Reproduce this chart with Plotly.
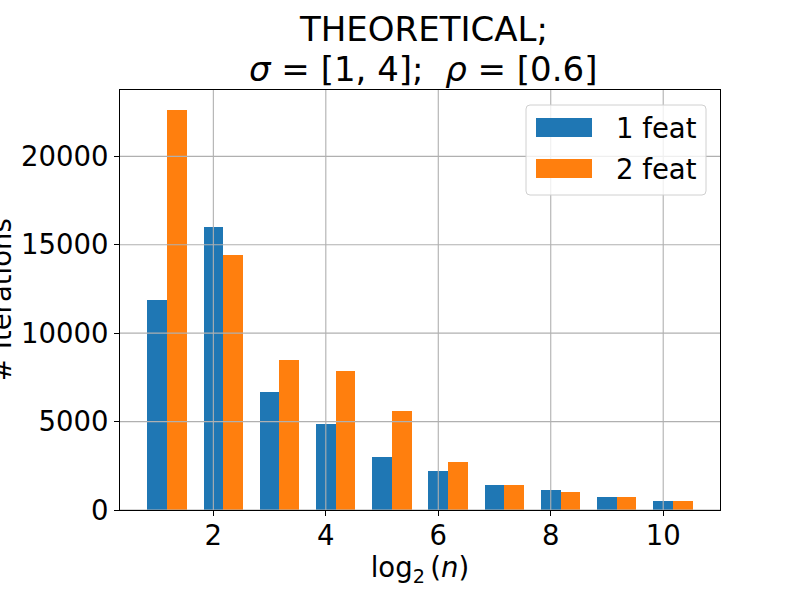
import plotly.graph_objects as go

# ---- data ----
log2_n = [1, 2, 3, 4, 5, 6, 7, 8, 9, 10]
feat1 = [11880, 16025, 6675, 4865, 3000, 2205, 1415, 1130, 735, 510]
feat2 = [22620, 14425, 8485, 7860, 5600, 2715, 1415, 1020, 735, 510]
series_names = ["1 feat", "2 feat"]
x_ticks = [2, 4, 6, 8, 10]
y_ticks = [0, 5000, 10000, 15000, 20000]
title_lines = ["THEORETICAL;", "<i>σ</i> = [1, 4];\u00a0\u00a0<i>ρ</i> = [0.6]"]

BAR_W = 0.35
BLUE = "#1f77b4"
ORANGE = "#ff7f0e"
FONT = "DejaVu Sans"
FS = 27.5

# plot area geometry (pixels)
L, R, T, B = 120, 80, 90, 90
W, H = 800, 600
PW, PH = W - L - R, H - T - B

def px_x(p):
    return (p - L) / PW

def px_y(p):
    return (H - B - p) / PH

def rounded_rect_path(x0, y0, x1, y1, r):
    # pixel coords (y down) -> paper coords path with rounded corners
    X = px_x
    Y = px_y
    return (f"M {X(x0 + r)},{Y(y0)} L {X(x1 - r)},{Y(y0)} "
            f"Q {X(x1)},{Y(y0)} {X(x1)},{Y(y0 + r)} "
            f"L {X(x1)},{Y(y1 - r)} Q {X(x1)},{Y(y1)} {X(x1 - r)},{Y(y1)} "
            f"L {X(x0 + r)},{Y(y1)} Q {X(x0)},{Y(y1)} {X(x0)},{Y(y1 - r)} "
            f"L {X(x0)},{Y(y0 + r)} Q {X(x0)},{Y(y0)} {X(x0 + r)},{Y(y0)} Z")

fig = go.Figure()
fig.add_trace(go.Bar(x=log2_n, y=feat1, width=BAR_W, name=series_names[0],
                     marker=dict(color=BLUE, line=dict(width=0))))
fig.add_trace(go.Bar(x=[v + BAR_W for v in log2_n], y=feat2, width=BAR_W,
                     name=series_names[1],
                     marker=dict(color=ORANGE, line=dict(width=0))))

xmin = min(log2_n) - BAR_W / 2
xmax = max(log2_n) + BAR_W * 1.5
xpad = (xmax - xmin) * 0.05
ymax = max(max(feat1), max(feat2)) * 1.05

shapes = []
# gridlines drawn over bars (as in the reference)
for t in x_ticks:
    shapes.append(dict(type="line", xref="x", yref="paper", x0=t, x1=t, y0=0, y1=1,
                       line=dict(color="#b0b0b0", width=1.1), layer="above"))
for t in y_ticks:
    shapes.append(dict(type="line", xref="paper", yref="y", x0=0, x1=1, y0=t, y1=t,
                       line=dict(color="#b0b0b0", width=1.1), layer="above"))

# manual legend (matplotlib style)
shapes.append(dict(type="path", xref="paper", yref="paper",
                   path=rounded_rect_path(526, 105, 706, 195, 4),
                   line=dict(color="#d0d0d0", width=1),
                   fillcolor="rgba(255,255,255,0.8)", layer="above"))
shapes.append(dict(type="rect", xref="paper", yref="paper",
                   x0=px_x(536), x1=px_x(592), y0=px_y(137), y1=px_y(118),
                   line=dict(width=0), fillcolor=BLUE, layer="above"))
shapes.append(dict(type="rect", xref="paper", yref="paper",
                   x0=px_x(536), x1=px_x(592), y0=px_y(178), y1=px_y(159),
                   line=dict(width=0), fillcolor=ORANGE, layer="above"))

annotations = [
    dict(text=series_names[0], xref="paper", yref="paper", x=px_x(614), y=px_y(127.5),
         xanchor="left", yanchor="middle", showarrow=False,
         font=dict(family=FONT, size=FS, color="black")),
    dict(text=series_names[1], xref="paper", yref="paper", x=px_x(614), y=px_y(168.5),
         xanchor="left", yanchor="middle", showarrow=False,
         font=dict(family=FONT, size=FS, color="black")),
    dict(text="# Iterations", xref="paper", yref="paper", x=px_x(1), y=0.5,
         xanchor="center", yanchor="middle", textangle=-90, showarrow=False,
         font=dict(family=FONT, size=FS, color="black")),
    # title, two lines
    dict(text=title_lines[0], xref="paper", yref="paper", x=px_x(423), y=px_y(29),
         xanchor="center", yanchor="middle", showarrow=False,
         font=dict(family=FONT, size=34, color="black")),
    dict(text=title_lines[1], xref="paper", yref="paper", x=px_x(423), y=px_y(69),
         xanchor="center", yanchor="middle", showarrow=False,
         font=dict(family=FONT, size=34, color="black")),
]

fig.update_layout(
    width=W, height=H,
    margin=dict(l=L, r=R, t=T, b=B),
    paper_bgcolor="white", plot_bgcolor="white",
    barmode="overlay", bargap=0,
    showlegend=False,
    font=dict(family=FONT, size=FS, color="black"),
    xaxis=dict(
        range=[xmin - xpad, xmax + xpad],
        tickmode="array", tickvals=x_ticks, ticktext=[str(t) for t in x_ticks],
        showgrid=False, zeroline=False,
        showline=True, mirror=True, linecolor="black", linewidth=1.1,
        ticks="outside", ticklen=5, tickwidth=1.1, tickcolor="black",
        ticklabelstandoff=-4,
        tickfont=dict(family=FONT, size=FS),
        title=dict(text="log<sub>2</sub>\u2009(<i>n</i>)", standoff=0,
                   font=dict(family=FONT, size=FS)),
    ),
    yaxis=dict(
        range=[0, ymax],
        tickmode="array", tickvals=y_ticks, ticktext=[str(t) for t in y_ticks],
        showgrid=False, zeroline=False,
        showline=True, mirror=True, linecolor="black", linewidth=1.1,
        ticks="outside", ticklen=5, tickwidth=1.1, tickcolor="black",
        tickfont=dict(family=FONT, size=FS),
    ),
    shapes=shapes,
    annotations=annotations,
)

fig.write_html("out.html")
